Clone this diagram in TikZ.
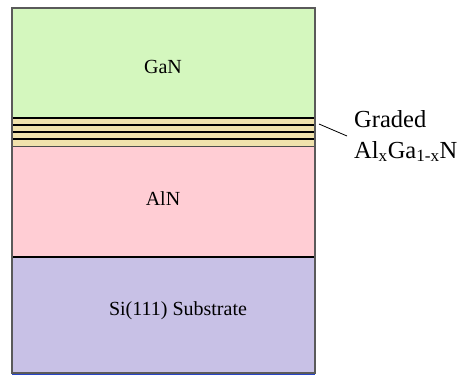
\documentclass[tikz,border=0pt]{standalone}
\usepackage{fontspec}
\setmainfont{Liberation Serif}
\definecolor{gan}{RGB}{212,247,190}
\definecolor{grad}{RGB}{240,226,172}
\definecolor{aln}{RGB}{255,205,212}
\definecolor{sub}{RGB}{200,193,230}
\definecolor{bline}{RGB}{40,70,200}
\definecolor{frame}{RGB}{90,90,90}
\begin{document}
\begin{tikzpicture}[x=1pt,y=-1pt,
  layertxt/.style={font=\fontsize{20}{24}\selectfont, inner sep=0pt},
  sidetxt/.style={font=\fontsize{24.5}{31}\selectfont, align=left, inner sep=0pt, anchor=north west},
  sep/.style={line width=1.3pt, black}]
\useasboundingbox (0,0) rectangle (462,377);
% layers
\fill[gan] (12,8) rectangle (315,118);
\fill[grad] (12,118) rectangle (315,146);
\fill[aln] (12,146) rectangle (315,257);
\fill[sub] (12,257) rectangle (315,373);
% graded sub-layers
\foreach \yy in {118,125,132,139} \draw[sep] (12,\yy) -- (315,\yy);
\draw[line width=0.8pt, black!70] (12,146) -- (315,146);
\draw[sep] (12,257) -- (315,257);
% bottom blue line
\draw[bline, line width=1.8pt] (12,374.5) -- (315,374.5);
% frame
\draw[frame, line width=1.8pt] (12,8) rectangle (315,373);
% labels
\node[layertxt] (ganl) at (163,67) {GaN};
\node[layertxt] (alnl) at (163,199) {AlN};
\node[layertxt] (subl) at (178,311) {Si(111) Substrate};
\node[sidetxt] (gradl) at (354,110) {Graded\\Al\textsubscript{x}Ga\textsubscript{1-x}N};
\coordinate (ls) at (319,124);
\coordinate (le) at (347,136);
\draw[line width=0.8pt] (ls) -- (le);
\end{tikzpicture}
\end{document}
